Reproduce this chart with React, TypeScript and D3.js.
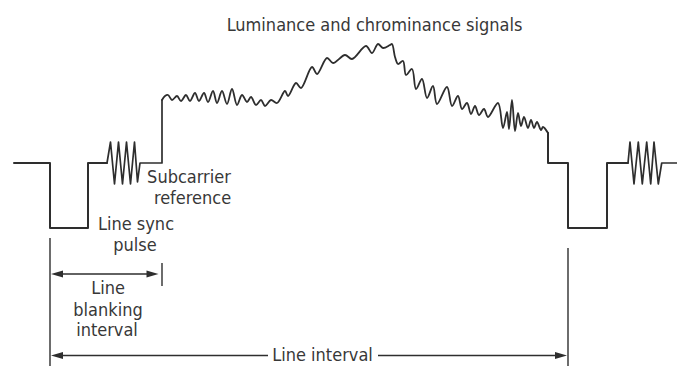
import React from "react";
import * as d3 from "d3";

// Signal level relative to blanking level (arbitrary units), time in arbitrary units
const blankingLevel = 0;
const syncLevel = -65;

// Line sync pulse + back porch (left)
const syncLeft: [number, number][] = [
  [14, 0], [50, 0], [50, -65], [88, -65], [88, 0], [107, 0],
];
// Colour burst (subcarrier reference), left
const burstLeft: [number, number][] = [
  [107, 0], [110.5, 21], [114.5, -21], [118.5, 21], [122.5, -21], [126.5, 21],
  [130.5, -21], [134.5, 21], [137.5, -19], [140, 0], [162, 0], [162, 63],
];
// Luminance + chrominance active video
const activeVideo: [number, number][] = [
  [162, 63], [165, 67], [168, 68], [172, 63], [177, 67], [181, 62], [186, 68],
  [190, 62], [195, 70], [199, 62], [204, 70], [208, 61], [213, 72], [217, 60],
  [222, 72], [227, 59], [232, 74], [237, 58], [242, 68], [247, 61], [251, 66],
  [256, 58], [261, 63], [265, 57], [271, 63], [277, 60], [285, 72], [288, 67],
  [296, 80], [301, 75], [312, 96], [317, 89], [327, 105], [333, 100], [345, 108],
  [352, 104], [366, 117], [372, 110], [378, 119], [383, 115], [390, 118], [392, 119],
  [395, 106], [398, 99], [403, 102], [406, 88], [412, 94], [416, 74], [422, 84],
  [427, 65], [433, 77], [437, 59], [447, 76], [452, 57], [458, 67], [462, 54],
  [467, 60], [471, 49], [475, 57], [479, 48], [484, 54], [488, 46], [498, 60],
  [503, 35], [507, 51], [509, 34], [512, 63], [515, 32], [518, 50], [521, 37],
  [524, 46], [528, 35], [531, 43], [534, 35], [537, 41], [541, 33], [543, 36],
  [548, 30],
];
// Front porch, next sync pulse, back porch (right)
const syncRight: [number, number][] = [
  [548, 30], [548, 0], [568, 0], [568, -65], [607, -65], [607, 0], [628, 0],
];
// Colour burst, right
const burstRight: [number, number][] = [
  [628, 0], [630, 21], [634, -21], [638.3, 21], [642.3, -21], [646.7, 21],
  [650.7, -21], [654, 21], [658.3, -21], [661.7, 0], [677, 0],
];

// Timing markers
const lineStart = 50;
const lineEnd = 568;
const blankingEnd = 162;

const title = "Luminance and chrominance signals";
const subcarrierLabel = ["Subcarrier", "reference"];
const syncLabel = ["Line sync", "pulse"];
const blankingLabel = ["Line", "blanking", "interval"];
const intervalLabel = "Line interval";

const W = 677;
const H = 366;
const INK = "#2e2e2e";
const TEXT = "#383838";
const FONT = "'DejaVu Sans Condensed', 'DejaVu Sans', sans-serif";

export default function App() {
  const x = d3.scaleLinear().domain([0, 677]).range([0, W]);
  const y = d3.scaleLinear().domain([-203, 163]).range([H, 0]);

  const lin = d3
    .line<[number, number]>()
    .x((d) => x(d[0]))
    .y((d) => y(d[1]))
    .curve(d3.curveLinear);
  const smooth = d3
    .line<[number, number]>()
    .x((d) => x(d[0]))
    .y((d) => y(d[1]))
    .curve(d3.curveCatmullRom.alpha(0.5));

  const arrow = (tipX: number, tipY: number, dir: number) => {
    const len = 12;
    const hw = 3.6;
    return `M${tipX},${tipY} L${tipX - dir * len},${tipY - hw} L${tipX - dir * len},${tipY + hw} Z`;
  };

  const blankArrowY = 274;
  const intervalArrowY = 355.5;

  const textStyle: React.CSSProperties = {
    fontFamily: FONT,
    fontSize: 18,
    fill: TEXT,
    fontStretch: "condensed",
  };

  return (
    <svg
      width={W}
      height={H}
      viewBox={`0 0 ${W} ${H}`}
      style={{ position: "absolute", left: 0, top: 0, background: "#fff" }}
    >
      <rect width={W} height={H} fill="#fff" />
      <g fill="none" stroke={INK} strokeWidth={2} strokeLinejoin="round" strokeLinecap="round">
        <path d={lin(syncLeft) || ""} />
        <path d={lin(burstLeft) || ""} strokeWidth={1.7} />
        <path d={smooth(activeVideo) || ""} strokeWidth={1.8} />
        <path d={lin(syncRight) || ""} />
        <path d={lin(burstRight) || ""} strokeWidth={1.7} />
      </g>

      {/* timing guides */}
      <g stroke={INK} strokeWidth={1.4}>
        <line x1={x(lineStart)} x2={x(lineStart)} y1={238} y2={H} />
        <line x1={x(lineEnd)} x2={x(lineEnd)} y1={248} y2={H} />
        <line x1={x(blankingEnd)} x2={x(blankingEnd)} y1={263} y2={286} />
        <line x1={x(lineStart) + 8} x2={x(blankingEnd) - 10} y1={blankArrowY} y2={blankArrowY} />
        <line x1={x(lineStart) + 8} x2={268} y1={intervalArrowY} y2={intervalArrowY} />
        <line x1={378} x2={x(lineEnd) - 8} y1={intervalArrowY} y2={intervalArrowY} />
      </g>
      <g fill={INK}>
        <path d={arrow(x(lineStart) + 1, blankArrowY, -1)} />
        <path d={arrow(x(blankingEnd) - 3.5, blankArrowY, 1)} />
        <path d={arrow(x(lineStart) + 1, intervalArrowY, -1)} />
        <path d={arrow(x(lineEnd) - 1, intervalArrowY, 1)} />
      </g>

      {/* labels */}
      <text x={374.5} y={31} textAnchor="middle" style={textStyle}>{title}</text>
      <text x={189} y={183} textAnchor="middle" style={textStyle}>{subcarrierLabel[0]}</text>
      <text x={192.5} y={204} textAnchor="middle" style={textStyle}>{subcarrierLabel[1]}</text>
      <text x={136} y={230} textAnchor="middle" style={textStyle}>{syncLabel[0]}</text>
      <text x={135} y={251} textAnchor="middle" style={textStyle}>{syncLabel[1]}</text>
      <text x={108} y={294} textAnchor="middle" style={textStyle}>{blankingLabel[0]}</text>
      <text x={108} y={316} textAnchor="middle" style={textStyle}>{blankingLabel[1]}</text>
      <text x={107} y={336} textAnchor="middle" style={textStyle}>{blankingLabel[2]}</text>
      <text x={322.5} y={361} textAnchor="middle" style={textStyle}>{intervalLabel}</text>
    </svg>
  );
}
